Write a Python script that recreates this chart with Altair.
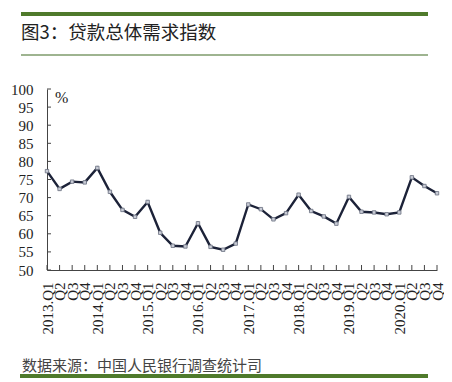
import altair as alt
import pandas as pd

years = [2013, 2014, 2015, 2016, 2017, 2018, 2019, 2020]
quarters = ["Q1", "Q2", "Q3", "Q4"]
values = [77.3, 72.4, 74.4, 74.2,
          78.2, 71.6, 66.6, 64.7,
          68.8, 60.3, 56.7, 56.5,
          62.9, 56.4, 55.6, 57.3,
          68.1, 66.8, 64.0, 65.7,
          70.8, 66.3, 64.8, 62.8,
          70.2, 66.1, 65.9, 65.4,
          65.9, 75.6, 73.2, 71.2]
y_ticks = [50, 55, 60, 65, 70, 75, 80, 85, 90, 95, 100]
title_text = "图3：贷款总体需求指数"
source_text = "数据来源：中国人民银行调查统计司"
unit_text = "%"

keys = [f"{y}.{q}" for y in years for q in quarters]
df = pd.DataFrame({"q": keys, "v": values})
tick_df = pd.DataFrame({"t": y_ticks})
one = pd.DataFrame({"a": [0]})

W, H = 390, 181
SERIF = "Liberation Serif"
CJK = "Noto Sans CJK SC"
GREEN = "#4f7a2b"

x_axis = alt.Axis(title=None, ticks=False, grid=False,
                  labelAngle=-90, labelFont=SERIF, labelFontSize=15,
                  labelColor="#222", labelPadding=12, labelOverlap=False,
                  labelExpr="indexof(datum.label, 'Q1') >= 0 ? datum.label : substring(datum.label, 5)",
                  domainColor="#444", domainWidth=1)
y_axis = alt.Axis(title=None, ticks=False, grid=False, values=y_ticks,
                  labelFont=SERIF, labelFontSize=15, labelColor="#222",
                  labelPadding=14, labelOverlap=False, labelFlush=False,
                  domainColor="#444", domainWidth=1)
x_scale = alt.Scale(type="point", padding=0)
y_scale = alt.Scale(domain=[50, 100], nice=False, zero=False)

def xq():
    return alt.X("q:N", sort=keys, scale=x_scale, axis=x_axis)

base = alt.Chart(df)
line = base.mark_line(color="#1c2238", strokeWidth=2.4).encode(
    x=xq(), y=alt.Y("v:Q", scale=y_scale, axis=y_axis))
pts = base.mark_point(shape="square", size=12, filled=True, color="#c9ccd6",
                      stroke="#6a7080", strokeWidth=0.8, opacity=1).encode(
    x=xq(), y=alt.Y("v:Q", scale=y_scale, axis=y_axis))
xticks = base.mark_rule(color="#444", strokeWidth=1).encode(
    x=xq(), y=alt.value(H - 5), y2=alt.value(H))
yticks = alt.Chart(tick_df).mark_rule(color="#444", strokeWidth=1).encode(
    y=alt.Y("t:Q", scale=y_scale, axis=y_axis), x=alt.value(0), x2=alt.value(4))

deco = alt.Chart(one)
top_line = deco.mark_rule(color=GREEN, strokeWidth=4).encode(
    x=alt.value(-26), x2=alt.value(381), y=alt.value(-75))
thin_line = deco.mark_rule(color="#3f6b22", strokeWidth=1.2).encode(
    x=alt.value(-26), x2=alt.value(381), y=alt.value(-34))
bot_line = deco.mark_rule(color=GREEN, strokeWidth=4).encode(
    x=alt.value(-27), x2=alt.value(381), y=alt.value(287))
title = deco.mark_text(align="left", baseline="middle", font=CJK, fontSize=18.5,
                       color="#222").encode(
    x=alt.value(-26), y=alt.value(-56), text=alt.value(title_text))
source = deco.mark_text(align="left", baseline="middle", font=CJK, fontSize=15,
                        color="#444").encode(
    x=alt.value(-25), y=alt.value(277), text=alt.value(source_text))
unit = deco.mark_text(align="left", baseline="middle", font=SERIF, fontSize=16,
                      color="#222").encode(
    x=alt.value(8), y=alt.value(9), text=alt.value(unit_text))

chart = alt.layer(line, xticks, yticks, pts, top_line, thin_line, bot_line,
                  title, source, unit).properties(
    width=W, height=H,
    autosize=alt.AutoSizeParams(type="none"),
    padding={"left": 39, "top": 81, "right": 7, "bottom": 110},
    background="white",
).configure_view(strokeWidth=0)

chart.save("out.html", embed_options={"renderer": "svg", "actions": False})
